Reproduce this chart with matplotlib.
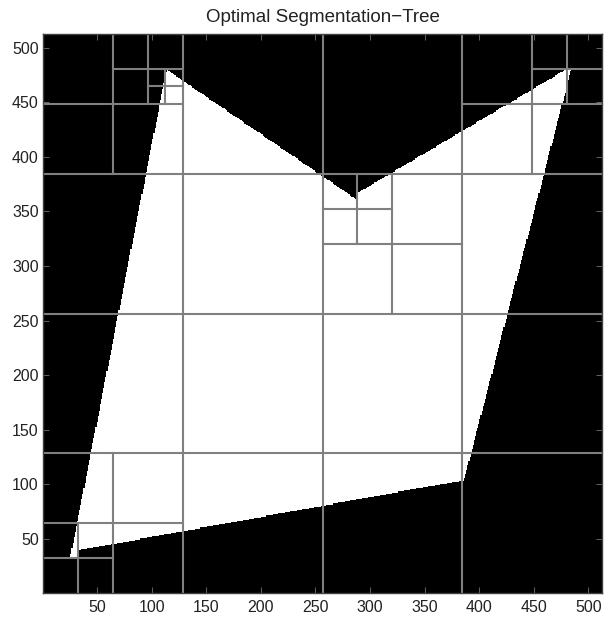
import numpy as np
import matplotlib.pyplot as plt
from matplotlib.path import Path

plt.rcParams['font.family'] = ['Liberation Sans', 'DejaVu Sans']

N = 512

# polygon outline of the white region (x, y in pixel units)
poly_x = [25.5, 32.5, 32.5, 385.5, 483.5, 478.5, 288.5, 288.5, 113.5]
poly_y = [33.5, 33.5, 39.5, 104.0, 480.0, 480.0, 367.0, 360.0, 480.0]

# split nodes of the segmentation tree: (x0, y0, size)
split_x0 = [0, 0, 256, 0, 256, 0, 0, 0, 64, 96, 256, 256, 384, 448]
split_y0 = [0, 0, 0, 256, 256, 0, 0, 384, 448, 448, 256, 320, 384, 448]
split_sz = [512, 256, 256, 256, 256, 128, 64, 128, 64, 32, 128, 64, 128, 64]

ticks = [50, 100, 150, 200, 250, 300, 350, 400, 450, 500]

# rasterise the polygon onto the image grid
gx, gy = np.meshgrid(np.arange(1, N + 1), np.arange(1, N + 1))
pts = np.column_stack([gx.ravel(), gy.ravel()])
mask = Path(np.column_stack([poly_x, poly_y])).contains_points(pts).reshape(N, N)

fig = plt.figure(figsize=(6.04, 6.19), dpi=100)
ax = fig.add_axes([0.0712, 0.042, 0.9255, 0.903])
ax.imshow(mask.astype(float), cmap='gray', vmin=0, vmax=0.995, origin='lower',
          extent=(0.5, N + 0.5, 0.5, N + 0.5), interpolation='nearest')

for x0, y0, s in zip(split_x0, split_y0, split_sz):
    cx = x0 + s / 2 + 0.5
    cy = y0 + s / 2 + 0.5
    ax.plot([cx, cx], [y0 + 0.5, y0 + s + 0.5], color='#808080', lw=1.5)
    ax.plot([x0 + 0.5, x0 + s + 0.5], [cy, cy], color='#808080', lw=1.5)

ax.set_xlim(0.5, N + 0.5)
ax.set_ylim(0.5, N + 0.5)
ax.set_aspect('auto')
ax.set_xticks(ticks)
ax.set_yticks(ticks)
ax.tick_params(direction='in', length=4, width=0.6, color='0.45',
               top=True, right=True, labelsize=11.5, labelcolor='#222222')
ax.tick_params(axis='x', pad=5)
ax.tick_params(axis='y', pad=3)
for sp in ax.spines.values():
    sp.set_color('0.25')
    sp.set_linewidth(1.0)
ax.set_title('Optimal Segmentation\u2212Tree', fontsize=13.5, color='#222222', pad=9)

fig.savefig('out.png', dpi=100)
